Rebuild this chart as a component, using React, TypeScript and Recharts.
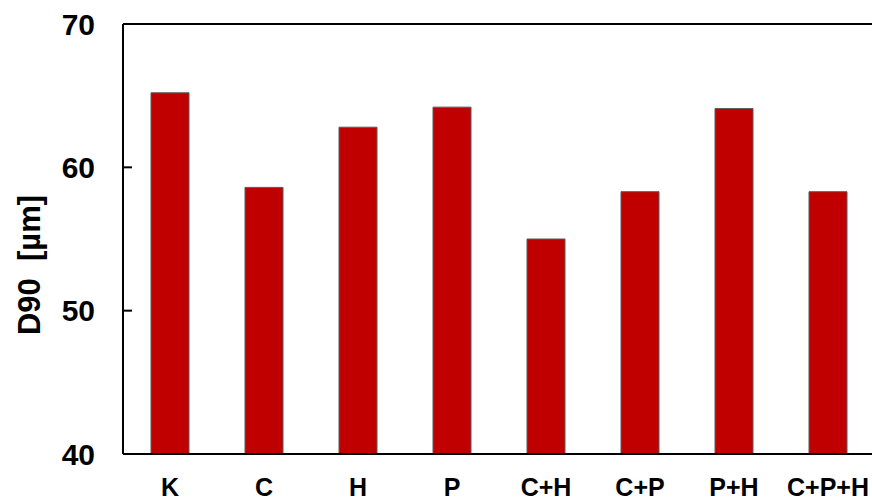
import { BarChart, Bar, XAxis, YAxis, ReferenceLine } from 'recharts'

const categories = ['K', 'C', 'H', 'P', 'C+H', 'C+P', 'P+H', 'C+P+H']
const d90Values = [65.2, 58.6, 62.8, 64.2, 55.0, 58.3, 64.1, 58.3]
const yTicks = [40, 50, 60, 70]
const yTitle = 'D90\u00a0\u00a0[µm]'

const data = categories.map((name, i) => ({ name, d90: d90Values[i] }))

const font = '"Liberation Sans", Arial, sans-serif'

function YTick(props: any) {
  const { x, y, payload } = props
  return (
    <g>
      <line x1={x} y1={y} x2={x + 9} y2={y} stroke="#000" strokeWidth={2} />
      <text
        x={x - 28}
        y={y}
        dy="0.36em"
        textAnchor="end"
        fontFamily={font}
        fontWeight="bold"
        fontSize={30}
        fill="#000"
      >
        {payload.value}
      </text>
    </g>
  )
}

function XTick(props: any) {
  const { x, y, payload } = props
  return (
    <text
      x={x}
      y={y}
      dy="0.71em"
      textAnchor="middle"
      fontFamily={font}
      fontWeight="bold"
      fontSize={25}
      fill="#000"
    >
      {payload.value}
    </text>
  )
}

function YTitle(props: any) {
  const { viewBox } = props
  const cx = 29
  const cy = viewBox.y + viewBox.height / 2 + 26
  return (
    <text
      x={cx}
      y={cy}
      transform={`rotate(-90, ${cx}, ${cy})`}
      textAnchor="middle"
      dominantBaseline="central"
      fontFamily={font}
      fontWeight="bold"
      fontSize={31}
      fill="#000"
    >
      {yTitle}
    </text>
  )
}

export default function App() {
  return (
    <div
      style={{
        position: 'absolute',
        left: 0,
        top: 0,
        width: 872,
        height: 500,
        overflow: 'hidden',
        background: '#fff',
      }}
    >
      <BarChart
        width={880}
        height={500}
        data={data}
        margin={{ top: 24, right: 5, left: 0, bottom: 0 }}
        barSize={38}
      >
        <XAxis
          dataKey="name"
          tick={<XTick />}
          tickLine={false}
          tickSize={0}
          tickMargin={24}
          height={46}
          axisLine={{ stroke: '#000', strokeWidth: 2 }}
          interval={0}
        />
        <YAxis
          domain={[40, 70]}
          ticks={yTicks}
          width={123}
          tick={<YTick />}
          tickLine={false}
          tickSize={0}
          tickMargin={0}
          axisLine={{ stroke: '#000', strokeWidth: 2 }}
          allowDataOverflow
          label={{ content: (p: any) => <YTitle {...p} /> }}
        />
        <ReferenceLine y={70} stroke="#000" strokeWidth={2} ifOverflow="visible" />
        <Bar
          dataKey="d90"
          fill="#C00000"
          stroke="#5a5a5a"
          strokeWidth={1}
          isAnimationActive={false}
        />
      </BarChart>
    </div>
  )
}
